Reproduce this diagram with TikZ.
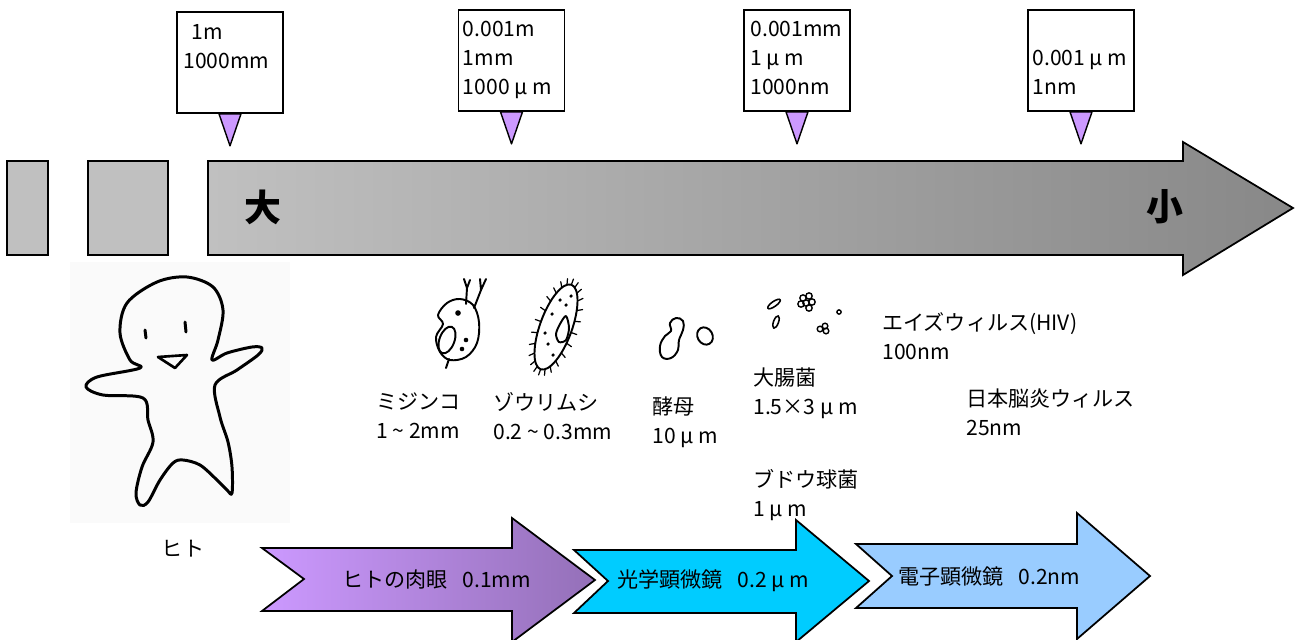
\documentclass[tikz,border=0pt]{standalone}
\usepackage{fontspec}
\setmainfont{Noto Sans CJK JP}
\usetikzlibrary{calc}

\definecolor{barlight}{HTML}{C0C0C0}
\definecolor{bardark}{HTML}{888888}
\definecolor{markerpurple}{HTML}{CC99FF}
\definecolor{eyelight}{HTML}{CC99FF}
\definecolor{eyedark}{HTML}{9470B8}
\definecolor{lightscope}{HTML}{00CCFF}
\definecolor{electronscope}{HTML}{99CCFF}

\begin{document}
\begin{tikzpicture}[
    x=0.02cm, y=-0.02cm,
    % Styles for scale boxes, markers, labels and sketches
    scalebox/.style={draw=black, line width=1pt, fill=white,
        minimum width=2.12cm, minimum height=2.02cm, inner sep=0pt},
    boxtext/.style={anchor=base west, align=left, inner sep=0pt,
        font=\fontsize{12}{16.3}\selectfont},
    marker/.style={draw=black, line width=0.8pt, fill=markerpurple, line join=round},
    label/.style={anchor=west, align=left, inner sep=0pt,
        font=\fontsize{12}{16.5}\selectfont},
    bigchar/.style={inner sep=0pt, font=\fontsize{21}{21}\selectfont\bfseries},
    sketch/.style={draw=black, line width=1.1pt, line join=round, line cap=round},
    blockarrow/.style={draw=black, line width=1pt, line join=miter}
]

    \useasboundingbox (0,0) rectangle (1297,639);

    % Size bar

    %% Two blocks before the arrow
    \filldraw[fill=barlight, draw=black, line width=1pt] (7,161) rectangle (48,255);
    \filldraw[fill=barlight, draw=black, line width=1pt] (88,161) rectangle (168,255);

    %% Shaded arrow from large to small
    \shadedraw[left color=barlight, right color=bardark, blockarrow]
        (208,161) -- (1183,161) -- (1183,142) -- (1293,208)
        -- (1183,275) -- (1183,255) -- (208,255) -- cycle;
    \node[bigchar] (large) at (263,207) {大};
    \node[bigchar] (small) at (1165,207) {小};


    % Scale boxes

    %% Boxes
    \node[scalebox] (box1) at (230,62.5) {};
    \node[scalebox] (box2) at (511.5,60.5) {};
    \node[scalebox] (box3) at (797,60.5) {};
    \node[scalebox] (box4) at (1081,60.5) {};

    %% Box texts (anchored on the baseline of the last line)
    \node[boxtext] (unit1) at ($(box1.north west)+(7,57)$) {\hspace{4.5pt}1m\\1000mm};
    \node[boxtext] (unit2) at ($(box2.north west)+(5,85)$) {0.001m\\1mm\\1000 μ m};
    \node[boxtext] (unit3) at ($(box3.north west)+(7,85)$) {0.001mm\\1 μ m\\1000nm};
    \node[boxtext] (unit4) at ($(box4.north west)+(5,85)$) {0.001 μ m\\1nm};

    %% Markers under the boxes
    \foreach \b in {box1, box2, box3, box4}
        \filldraw[marker] ($(\b.south)+(-11,0)$) -- ($(\b.south)+(11,0)$)
            -- ($(\b.south)+(0,32)$) -- cycle;


    % Human

    \fill[black!2] (70,262) rectangle (290,523);
    \draw[sketch, line width=1.7pt] plot[smooth cycle, tension=0.55] coordinates {
        (140,368) (97,377) (86,387) (103,395) (143,398) (148,420) (153,442)
        (142,467) (136,493) (140,505) (148,502) (160,480) (173,463) (183,460)
        (200,465) (217,480) (227,490) (232,493) (232,467) (228,442) (220,417)
        (215,385) (237,370) (258,355) (262,348) (252,347) (227,353) (212,360)
        (218,340) (223,310) (213,287) (187,277) (157,282) (127,303) (120,333)
        (130,360)};
    \draw[sketch, line width=1.7pt] (145,330) -- (146,338);
    \draw[sketch, line width=1.7pt] (185,322) -- (186,332);
    \draw[sketch, line width=1.5pt] (158,357) -- (187,355) -- (175,368) -- cycle;
    \node[label, anchor=center] (human) at (183,549) {ヒト};


    % Organisms

    %% Daphnia
    \draw[sketch] plot[smooth cycle, tension=0.6] coordinates {
        (438,315) (447,303) (460,299) (473,305) (479,322) (477,343) (466,357)
        (450,360) (440,352) (436,337) (443,324)};
    \draw[sketch] (449,359) -- (446,368);
    \draw[sketch] (466,304) -- (467,288) -- (464,279) (467,288) -- (470,280);
    \draw[sketch] (474,308) -- (481,290) -- (480,279) (481,290) -- (486,279);
    \fill (458,313) circle (1.6pt);
    \draw[sketch, rotate around={-20:(447,340)}] (447,340) ellipse [x radius=0.15cm, y radius=0.28cm];
    \fill (466,340) circle (1.3pt) (462,349) circle (1.3pt);
    \node[label] (daphnia) at (376,416) {ミジンコ\\1 \textasciitilde{} 2mm};

    %% Paramecium
    \begin{scope}[shift={(556,327)}, rotate=70]
        \draw[sketch] (0,0) ellipse [x radius=0.9cm, y radius=0.32cm];
        \foreach \a in {0,15,...,345}
            \draw[sketch, line width=0.7pt] (\a:0.9cm and 0.32cm) -- (\a:1.02cm and 0.44cm);
    \end{scope}
    \draw[sketch] plot[smooth cycle] coordinates {
        (566,316) (569,328) (566,340) (559,342) (556,334) (560,324)};
    \foreach \p in {(560,300), (566,305), (552,314), (548,344), (553,355), (545,333), (571,296)}
        \fill \p circle (1pt);
    \node[label] (paramecium) at (493,416) {ゾウリムシ\\0.2 \textasciitilde{} 0.3mm};

    %% Yeast
    \draw[sketch] plot[smooth cycle, tension=0.7] coordinates {
        (662,357) (660,346) (665,336) (671,331) (670,323) (676,318) (683,321)
        (683,330) (679,340) (678,350) (671,358)};
    \draw[sketch, rotate around={30:(705,336)}] (705,336) ellipse [x radius=0.15cm, y radius=0.18cm];
    \node[label] (yeast) at (652,422) {酵母\\10 μ m};

    %% Bacteria
    \draw[sketch, line width=0.9pt, rotate around={35:(774,304)}] (774,304) ellipse [x radius=0.15cm, y radius=0.05cm];
    \draw[sketch, line width=0.9pt, rotate around={70:(776,322)}] (776,322) ellipse [x radius=0.13cm, y radius=0.05cm];
    \foreach \p in {(803,298), (809,296), (806,303), (812,302), (801,304), (809,308)}
        \draw[line width=0.8pt] \p circle (1.8pt);
    \foreach \p in {(820,329), (825,326), (826,331)}
        \draw[line width=0.8pt] \p circle (1.6pt);
    \draw[line width=0.8pt] (839,312) circle (1.2pt);
    \node[label] (ecoli) at (753,393) {大腸菌\\1.5×3 μ m};
    \node[label] (staph) at (753,495) {ブドウ球菌\\1 μ m};

    %% Viruses
    \node[label] (hiv) at (882,336) {エイズウィルス(HIV)\\100nm};
    \node[label] (jev) at (966,412) {日本脳炎ウィルス\\25nm};


    % Resolving power

    \shadedraw[left color=eyelight, right color=eyedark, blockarrow]
        (262,548) -- (512,548) -- (512,518) -- (595,580) -- (512,642)
        -- (512,611) -- (262,611) -- (304,579) -- cycle;
    \node[label] (eye) at (342,580) {ヒトの肉眼\hspace{.7em}0.1mm};

    \filldraw[fill=lightscope, blockarrow]
        (574,550) -- (796,550) -- (796,520) -- (869,581) -- (796,642)
        -- (796,613) -- (574,613) -- (608,581) -- cycle;
    \node[label] (optical) at (617,581) {光学顕微鏡\hspace{.7em}0.2 μ m};

    \filldraw[fill=electronscope, blockarrow]
        (856,544) -- (1077,544) -- (1077,513) -- (1150,576) -- (1077,639)
        -- (1077,608) -- (856,608) -- (892,576) -- cycle;
    \node[label] (electron) at (898,576) {電子顕微鏡\hspace{.7em}0.2nm};

\end{tikzpicture}
\end{document}
